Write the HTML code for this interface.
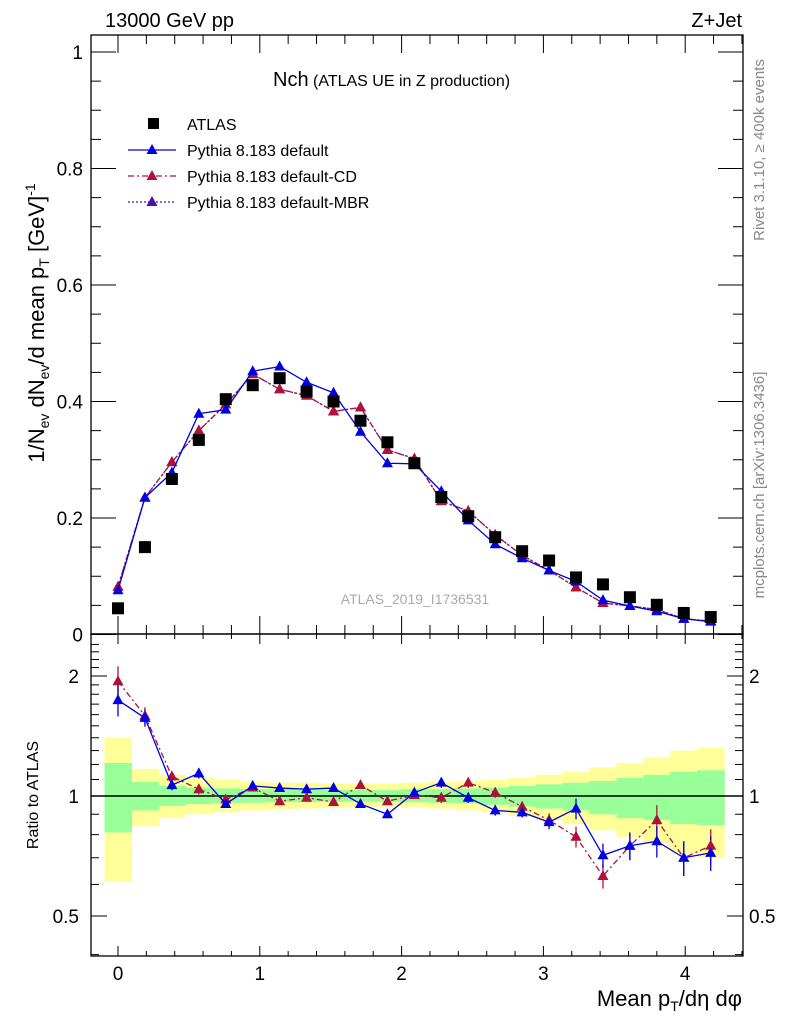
<!DOCTYPE html>
<html><head><meta charset="utf-8"><style>
body{margin:0;background:#fff;}
svg{display:block;font-family:"Liberation Sans",sans-serif;}
</style></head><body>
<svg id="c" width="786" height="1024"></svg>
<script>
const xs=[0,0.19,0.38,0.57,0.76,0.95,1.14,1.33,1.52,1.71,1.90,2.09,2.28,2.47,2.66,2.85,3.04,3.23,3.42,3.61,3.80,3.99,4.18];
const atlas=[0.045,0.15,0.267,0.334,0.404,0.428,0.44,0.417,0.4,0.367,0.33,0.294,0.236,0.203,0.167,0.143,0.127,0.098,0.086,0.064,0.051,0.037,0.03];
const pyDef=[0.076,0.235,0.278,0.379,0.386,0.452,0.46,0.433,0.415,0.348,0.294,0.293,0.246,0.196,0.155,0.131,0.11,0.091,0.059,0.049,0.04,0.027,0.022];
const pyCD=[0.082,0.235,0.296,0.35,0.395,0.447,0.421,0.41,0.383,0.39,0.317,0.302,0.229,0.212,0.171,0.136,0.11,0.081,0.054,0.049,0.043,0.027,0.023];
const pyMBR=[0.082,0.235,0.296,0.35,0.395,0.447,0.421,0.41,0.383,0.39,0.317,0.302,0.229,0.212,0.171,0.136,0.11,0.081,0.054,0.049,0.043,0.027,0.023];
const rDef=[1.74,1.57,1.065,1.14,0.955,1.06,1.047,1.04,1.047,0.955,0.9,1.02,1.08,0.99,0.92,0.91,0.86,0.93,0.71,0.75,0.77,0.70,0.72];
const rCD=[1.94,1.59,1.12,1.04,0.98,1.05,0.97,0.99,0.966,1.065,0.97,1.006,0.99,1.08,1.02,0.94,0.87,0.79,0.63,0.75,0.87,0.70,0.75];
const rErr=[0.09,0.05,0.03,0.03,0.02,0.02,0.02,0.02,0.02,0.02,0.02,0.02,0.03,0.03,0.03,0.03,0.04,0.06,0.07,0.08,0.09,0.1,0.1];
const yellowUp=[1.40,1.17,1.13,1.11,1.10,1.09,1.08,1.08,1.075,1.075,1.075,1.08,1.085,1.09,1.10,1.11,1.13,1.15,1.18,1.21,1.25,1.30,1.32];
const yellowDn=[0.61,0.84,0.88,0.90,0.91,0.92,0.925,0.93,0.935,0.94,0.94,0.935,0.93,0.92,0.91,0.89,0.87,0.85,0.82,0.79,0.76,0.72,0.70];
const greenUp=[1.21,1.085,1.06,1.05,1.045,1.04,1.04,1.035,1.035,1.035,1.035,1.04,1.04,1.045,1.05,1.06,1.07,1.08,1.09,1.11,1.13,1.15,1.16];
const greenDn=[0.81,0.92,0.945,0.955,0.96,0.962,0.965,0.966,0.968,0.968,0.968,0.965,0.962,0.958,0.95,0.94,0.93,0.92,0.9,0.88,0.87,0.85,0.845];
const mainTicks=[0,0.2,0.4,0.6,0.8,1];
const ratioTicks=[0.5,1,2];
const xTicks=[0,1,2,3,4];

const svg=document.getElementById('c');
const NS='http://www.w3.org/2000/svg';
const L=91,R=743,T=35,M=634,B=956;
const X=v=>118+v*141.8;
const Y=v=>634.5-v*582.5;
const YR=r=>796-120*Math.log2(r);
function el(tag,attrs,name,parent){const e=document.createElementNS(NS,tag);for(const k in attrs)e.setAttribute(k,attrs[k]);


(parent||svg).appendChild(e);return e;}
function txt(x,y,s,size,name,extra){const e=el('text',Object.assign({x:x,y:y,'font-size':size},extra||{}),name);e.textContent=s;return e;}

// bands
const hw=13.5;
xs.forEach((v,i)=>{
  el('rect',{x:X(v)-hw,y:YR(yellowUp[i]),width:2*hw+0.5,height:YR(yellowDn[i])-YR(yellowUp[i]),fill:'#ffff99'},'yellow-band');
});
xs.forEach((v,i)=>{
  el('rect',{x:X(v)-hw,y:YR(greenUp[i]),width:2*hw+0.5,height:YR(greenDn[i])-YR(greenUp[i]),fill:'#99ff99'},'green-band');
});
el('line',{x1:L,x2:R,y1:YR(1),y2:YR(1),stroke:'#000','stroke-width':1.5},'ratio-unity-line');

// frames
el('rect',{x:L,y:T,width:R-L,height:M-T,fill:'none',stroke:'#000','stroke-width':1.3},'main-frame');
el('rect',{x:L,y:M,width:R-L,height:B-M,fill:'none',stroke:'#000','stroke-width':1.3},'ratio-frame');

// main y ticks
for(let v=0;v<=1.0701;v+=0.05){const maj=Math.abs(v*5-Math.round(v*5))<1e-6;const l=maj?25:10;
 if(Y(v)<T)continue;
 el('line',{x1:L,x2:L+l,y1:Y(v),y2:Y(v),stroke:'#000'},'y-tick');
 el('line',{x1:R,x2:R-l,y1:Y(v),y2:Y(v),stroke:'#000'},'y-tick');}
mainTicks.forEach(v=>txt(L-8,Y(v)+7,String(v),19,'y-tick-label',{'text-anchor':'end'}));
// x ticks
for(let i=-1;i<=23;i++){const vv=i*0.2;const x=X(vv);if(x<=L||x>=R)continue;const maj=i%5===0;
 el('line',{x1:x,x2:x,y1:T,y2:T+(maj?18:9),stroke:'#000'},'x-tick');
 el('line',{x1:x,x2:x,y1:M,y2:M-(maj?18:9),stroke:'#000'},'x-tick');
 el('line',{x1:x,x2:x,y1:M,y2:M+(maj?10:5),stroke:'#000'},'x-tick');
 el('line',{x1:x,x2:x,y1:B,y2:B-(maj?10:5),stroke:'#000'},'x-tick');}
xTicks.forEach(v=>txt(X(v),980,String(v),19,'x-tick-label',{'text-anchor':'middle'}));
// ratio ticks
const rt=[0.4,0.5,0.6,0.7,0.8,0.9,1,1.1,1.2,1.3,1.4,1.5,1.6,1.7,1.8,1.9,2,2.1,2.2,2.3,2.4];
rt.forEach(r=>{const y=YR(r);if(y<M||y>B)return;const maj=ratioTicks.includes(r);const l=maj?16:8;
 el('line',{x1:L,x2:L+l,y1:y,y2:y,stroke:'#000'},'ratio-tick');el('line',{x1:R,x2:R-l,y1:y,y2:y,stroke:'#000'},'ratio-tick');});
ratioTicks.forEach(r=>{txt(L-12,YR(r)+7,String(r),19,'ratio-tick-label',{'text-anchor':'end'});txt(R+6,YR(r)+7,String(r),19,'ratio-tick-label-right',{'text-anchor':'start'});});

// series
function series(vals,ys,color,dash,name){
  const pts=xs.map((v,i)=>X(v)+','+ys(vals[i])).join(' ');
  const a={points:pts,fill:'none',stroke:color,'stroke-width':1.3};if(dash)a['stroke-dasharray']=dash;
  el('polyline',a,name+'-line');
  xs.forEach((v,i)=>{const x=X(v),y=ys(vals[i]);
    el('polygon',{points:`${x},${y-6} ${x-5.5},${y+4} ${x+5.5},${y+4}`,fill:color},name+'-marker');});
}
function errs(vals,color){xs.forEach((v,i)=>{const x=X(v);const y1=YR(vals[i]*(1+rErr[i])),y2=YR(vals[i]*(1-rErr[i]));
  el('line',{x1:x,x2:x,y1:y1,y2:y2,stroke:color,'stroke-width':1.3},'error-bar');});}
series(pyMBR,Y,'#4b0fb0','2,2','pythia-mbr');
series(pyCD,Y,'#b0103a','6,3,2,3','pythia-cd');
series(pyDef,Y,'#0000e0',null,'pythia-default');
xs.forEach((v,i)=>el('rect',{x:X(v)-6,y:Y(atlas[i])-6,width:12,height:12,fill:'#000'},'atlas-point'));
errs(rCD,'#b0103a');errs(rDef,'#0000e0');
series(rCD,YR,'#b0103a','6,3,2,3','ratio-cd');
series(rDef,YR,'#0000e0',null,'ratio-default');

// texts
txt(105,27,'13000 GeV pp',20,'energy-label');
txt(742,27,'Z+Jet',20,'process-label',{'text-anchor':'end'});
const t=txt(273,86,'Nch',20,'plot-title');
const ts=el('tspan',{'font-size':16},'plot-subtitle',t);ts.textContent=' (ATLAS UE in Z production)';
txt(415,604,'ATLAS_2019_I1736531',14,'analysis-id',{fill:'#aaa','text-anchor':'middle'});
// legend
el('rect',{x:148,y:118,width:11,height:11,fill:'#000'},'legend-atlas-marker');
txt(187,130,'ATLAS',16,'legend-atlas');
[['#0000e0',null,'Pythia 8.183 default',156],['#b0103a','6,3,2,3','Pythia 8.183 default-CD',182],['#4b0fb0','2,2','Pythia 8.183 default-MBR',208]].forEach((d,i)=>{
 const a={x1:128,x2:176,y1:d[3]-6,y2:d[3]-6,stroke:d[0],'stroke-width':1.3};if(d[1])a['stroke-dasharray']=d[1];
 el('line',a,'legend-line');
 el('polygon',{points:`152,${d[3]-12} 146.5,${d[3]-2} 157.5,${d[3]-2}`,fill:d[0]},'legend-marker');
 txt(187,d[3],d[2],16,'legend-entry');});
// axis titles
const yt=txt(0,0,'',22,'y-axis-title',{transform:'translate(44,323) rotate(-90)','text-anchor':'middle'});
yt.innerHTML='1/N<tspan font-size="14" dy="5">ev</tspan><tspan dy="-5"> dN</tspan><tspan font-size="14" dy="5">ev</tspan><tspan dy="-5">/d mean p</tspan><tspan font-size="14" dy="5">T</tspan><tspan dy="-5"> [GeV]</tspan><tspan font-size="14" dy="-9">-1</tspan>';
txt(0,0,'Ratio to ATLAS',16,'ratio-axis-title',{transform:'translate(38,795) rotate(-90)','text-anchor':'middle'});
const xt=txt(742,1006,'',22,'x-axis-title',{'text-anchor':'end'});
xt.innerHTML='Mean p<tspan font-size="14" dy="5">T</tspan><tspan dy="-5">/dη dφ</tspan>';
txt(0,0,'Rivet 3.1.10, ≥ 400k events',15,'rivet-label',{transform:'translate(764,150) rotate(-90)','text-anchor':'middle',fill:'#888'});
txt(0,0,'mcplots.cern.ch [arXiv:1306.3436]',15,'mcplots-label',{transform:'translate(764,485) rotate(-90)','text-anchor':'middle',fill:'#888'});
</script>
</body></html>
